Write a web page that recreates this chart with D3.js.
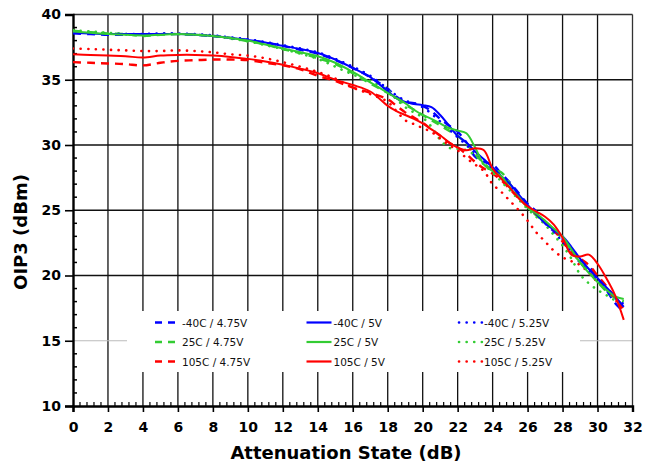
<!DOCTYPE html>
<html>
<head>
<meta charset="utf-8">
<script src="https://cdn.jsdelivr.net/npm/d3@7"></script>
<style>
  html, body { margin: 0; padding: 0; background: #fff; }
  svg { display: block; }
</style>
</head>
<body>
<div id="chart"></div>
<script>
// ---------- DATA ----------
const attenuation = [0,1,2,3,4,5,6,7,8,9,10,11,12,13,14,15,16,17,18,
  18.5,19,19.5,20,20.5,21,21.5,22,22.5,23,23.5,24,24.5,25,25.5,26,26.5,27,27.5,28,28.5,29,29.5,30,30.5,31,31.5];

const m40_475 = [38.55,38.5,38.45,38.45,38.45,38.5,38.5,38.45,38.35,38.2,38.05,37.85,37.6,37.3,37.0,36.5,35.9,35.2,34.3,
  33.7,33.3,33.2,33.0,32.6,32.0,31.5,31.0,30.2,29.1,28.7,28.5,27.8,27.1,26.3,25.5,24.9,24.0,23.4,22.8,22.0,21.2,20.7,19.8,18.9,17.9,17.2];
const p25_475 = [38.75,38.65,38.55,38.5,38.35,38.45,38.5,38.45,38.35,38.2,37.95,37.7,37.35,37.05,36.65,36.2,35.5,34.7,34.0,
  33.6,33.1,32.7,32.3,31.9,31.5,31.1,30.7,30.1,29.3,28.6,28.1,27.9,27.0,26.0,25.3,24.6,24.1,23.5,22.8,21.9,21.0,20.3,19.5,18.8,18.3,18.0];
const p105_475 = [36.35,36.3,36.25,36.2,36.1,36.3,36.45,36.5,36.55,36.55,36.5,36.3,36.1,35.8,35.3,34.9,34.4,34.0,33.5,
  33.0,32.5,32.1,31.7,31.2,30.7,30.2,29.8,29.3,28.7,28.2,27.8,27.3,26.6,25.9,25.3,24.7,24.1,23.5,22.6,21.8,21.3,20.8,20.0,19.2,18.3,17.4];

const m40_5 = [38.6,38.55,38.5,38.5,38.5,38.5,38.5,38.45,38.35,38.2,38.05,37.85,37.6,37.35,37.05,36.55,35.9,35.2,34.1,
  33.6,33.3,33.15,33.05,32.9,32.3,31.5,30.7,30.2,29.5,28.9,28.3,27.6,27.0,26.2,25.4,24.7,24.0,23.5,23.0,22.2,21.3,20.5,19.8,19.1,18.4,17.6];
const p25_5 = [38.7,38.6,38.5,38.45,38.4,38.45,38.5,38.45,38.35,38.2,38.0,37.7,37.4,37.1,36.8,36.3,35.6,34.8,34.0,
  33.6,33.2,32.7,32.3,32.0,31.65,31.3,31.1,30.9,29.8,28.5,28.0,27.6,26.7,26.0,25.2,24.75,24.2,23.6,23.0,22.0,21.0,20.2,19.5,18.9,18.4,18.2];
const p105_5 = [36.95,36.9,36.85,36.8,36.7,36.85,36.9,36.9,36.85,36.75,36.6,36.4,36.15,35.85,35.5,35.0,34.6,34.1,33.0,
  32.6,32.3,32.0,31.65,31.2,30.75,30.2,29.8,29.6,29.75,29.6,28.2,27.4,26.7,25.9,25.3,24.9,24.5,23.9,22.9,21.6,21.45,21.6,20.9,19.8,18.5,16.6];

const m40_525 = [38.65,38.6,38.55,38.5,38.5,38.55,38.55,38.5,38.4,38.25,38.1,37.9,37.65,37.4,37.1,36.6,36.0,35.3,34.3,
  33.8,33.4,33.2,32.9,32.4,31.8,31.2,30.6,30.0,29.3,28.8,28.2,27.5,26.8,26.0,25.3,24.6,24.0,23.3,22.6,21.8,21.0,20.3,19.6,18.9,18.3,17.8];
const p25_525 = [38.8,38.7,38.6,38.5,38.45,38.5,38.5,38.45,38.35,38.15,37.95,37.65,37.35,37.0,36.6,36.0,35.4,34.9,34.2,
  33.5,32.9,32.5,32.1,31.4,30.4,29.8,29.7,29.6,29.2,28.5,27.9,27.2,26.5,25.8,25.1,24.5,23.9,23.1,22.3,21.3,20.1,19.4,18.9,18.5,18.1,17.8];
const p105_525 = [37.4,37.35,37.3,37.25,37.2,37.2,37.25,37.2,37.1,36.95,36.85,36.65,36.35,36.0,35.6,35.1,34.4,33.9,33.3,
  32.6,31.9,31.6,31.3,31.0,30.5,30.0,29.6,29.0,28.5,28.0,27.0,26.4,25.7,25.0,24.2,23.3,22.6,21.9,21.4,21.1,20.8,20.2,19.5,19.0,18.2,17.2];

const seriesNames = ["-40C / 4.75V","25C / 4.75V","105C / 4.75V",
                     "-40C / 5V","25C / 5V","105C / 5V",
                     "-40C / 5.25V","25C / 5.25V","105C / 5.25V"];
const seriesValues = [m40_475,p25_475,p105_475,m40_5,p25_5,p105_5,m40_525,p25_525,p105_525];

const xTicks = [0,2,4,6,8,10,12,14,16,18,20,22,24,26,28,30,32];
const yTicks = [10,15,20,25,30,35,40];

// ---------- STYLES ----------
const colors = ["#0000ff","#33cc33","#ff0000"];
const styleFor = i => ({col: colors[i % 3], kind: Math.floor(i / 3)}); // 0 dashed, 1 solid, 2 dotted

// ---------- CHART ----------
const W = 645, H = 470;
const svg = d3.select("#chart").append("svg").attr("width", W).attr("height", H);

const x = d3.scaleLinear().domain([0, 32]).range([73, 632.5]);
const y = d3.scaleLinear().domain([10, 40]).range([406, 14.5]);

// gridlines
const grid = svg.append("g");
grid.selectAll("line.v").data(xTicks.filter(d => d > 0 && d < 32)).enter().append("line")
  .attr("x1", d => x(d)).attr("x2", d => x(d)).attr("y1", y(40)).attr("y2", y(10))
  .attr("stroke", "#111").attr("stroke-width", 1.3);
grid.selectAll("line.h").data(yTicks.filter(d => d > 10 && d < 40)).enter().append("line")
  .attr("x1", x(0)).attr("x2", x(32)).attr("y1", d => y(d)).attr("y2", d => y(d))
  .attr("stroke", d => d === 15 ? "#bbb" : "#111").attr("stroke-width", d => d === 15 ? 1 : 1.3);

// frame top/right
svg.append("line").attr("x1", x(0)).attr("x2", x(32)).attr("y1", y(40)).attr("y2", y(40))
  .attr("stroke", "#333").attr("stroke-width", 1.6);
svg.append("line").attr("x1", x(32)).attr("x2", x(32)).attr("y1", y(40)).attr("y2", y(10))
  .attr("stroke", "#333").attr("stroke-width", 1.3);

// minor ticks
const xMinor = d3.range(0, 32.01, 0.4).filter(v => Math.abs(v / 2 - Math.round(v / 2)) > 0.01);
svg.append("g").selectAll("line").data(xMinor).enter().append("line")
  .attr("x1", d => x(d)).attr("x2", d => x(d)).attr("y1", y(10)).attr("y2", y(10) - 4)
  .attr("stroke", "#000").attr("stroke-width", 1.2);
const yMinor = d3.range(10, 40.01, 1).filter(v => v % 5 !== 0);
svg.append("g").selectAll("line").data(yMinor).enter().append("line")
  .attr("x1", x(0)).attr("x2", x(0) + 4).attr("y1", d => y(d)).attr("y2", d => y(d))
  .attr("stroke", "#000").attr("stroke-width", 1.5);

// axes
const xAxis = d3.axisBottom(x).tickValues(xTicks).tickSize(6).tickPadding(10).tickFormat(d3.format("d"));
const yAxis = d3.axisLeft(y).tickValues(yTicks).tickSize(8).tickPadding(6).tickFormat(d3.format("d"));
const gx = svg.append("g").attr("transform", `translate(0,${y(10)})`).call(xAxis);
const gy = svg.append("g").attr("transform", `translate(${x(0)},0)`).call(yAxis);
[gx, gy].forEach(g => {
  g.select(".domain").attr("stroke", "#000").attr("stroke-width", 2.4);
  g.selectAll(".tick line").attr("stroke", "#000").attr("stroke-width", 1.6);
  g.selectAll(".tick text").attr("fill", "#000")
    .style("font-family", "'DejaVu Sans', Verdana, sans-serif")
    .style("font-weight", "bold").style("font-size", "14px");
});
gy.selectAll(".tick text").attr("x", -12);

// clip for data
svg.append("clipPath").attr("id", "clip").append("rect")
  .attr("x", x(0)).attr("y", y(40) - 3).attr("width", x(32) - x(0)).attr("height", y(10) - y(40) + 3);

const line = d3.line().x((d, i) => x(attenuation[i])).y(d => y(d)).curve(d3.curveCatmullRom.alpha(0.5));

const dataG = svg.append("g").attr("clip-path", "url(#clip)");
const order = [0,1,2,6,7,8,3,4,5];
order.forEach(i => {
  const s = styleFor(i);
  const p = dataG.append("path").datum(seriesValues[i]).attr("d", line)
    .attr("fill", "none").attr("stroke", s.col);
  if (s.kind === 0) p.attr("stroke-width", 2.4).attr("stroke-dasharray", "8,6");
  else if (s.kind === 1) p.attr("stroke-width", 2);
  else p.attr("stroke-width", 2.6).attr("stroke-dasharray", "0.1,7.5").attr("stroke-linecap", "round");
});

// legend
const lg = svg.append("g");
lg.append("rect").attr("x", 127).attr("y", 311).attr("width", 453).attr("height", 61).attr("fill", "#fff");
const colX = [155, 306.5, 457];
const rowY = [322.5, 342, 361.5];
seriesNames.forEach((name, i) => {
  const s = styleFor(i);
  const cx = colX[Math.floor(i / 3)], cy = rowY[i % 3];
  const l = lg.append("line").attr("x1", cx).attr("x2", cx + 25).attr("y1", cy).attr("y2", cy)
    .attr("stroke", s.col);
  if (s.kind === 0) l.attr("stroke-width", 2.4).attr("stroke-dasharray", "7,6");
  else if (s.kind === 1) l.attr("stroke-width", 2.2);
  else l.attr("stroke-width", 2.6).attr("stroke-dasharray", "0.1,7.5").attr("stroke-linecap", "round").attr("x1", cx + 2);
  lg.append("text").attr("x", cx + 27).attr("y", cy + 4).text(name)
    .style("font-family", "'DejaVu Sans', Tahoma, sans-serif").style("font-size", "10.5px").attr("fill", "#111");
});

// titles
svg.append("text").attr("x", 346).attr("y", 459).attr("text-anchor", "middle").text("Attenuation State (dB)")
  .style("font-family", "'DejaVu Sans', Verdana, sans-serif").style("font-weight", "bold").style("font-size", "18px");
svg.append("text").attr("transform", "translate(27,232) rotate(-90)").attr("text-anchor", "middle").text("OIP3 (dBm)")
  .style("font-family", "'DejaVu Sans', Verdana, sans-serif").style("font-weight", "bold").style("font-size", "18px");
</script>
</body>
</html>
